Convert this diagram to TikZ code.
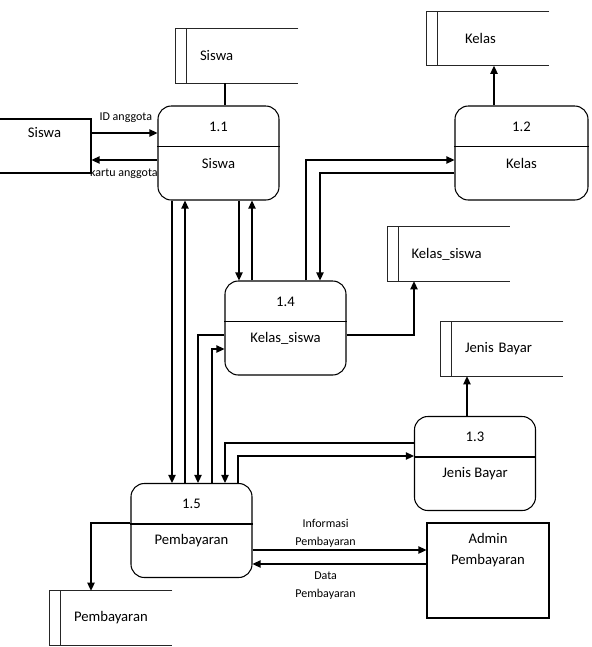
\documentclass[tikz,border=0pt]{standalone}
\usepackage{fontspec}
\setmainfont{Carlito}
\usetikzlibrary{arrows.meta}

\tikzset{
  proc/.style 2 args={draw, line width=0.8pt, rounded corners=10pt,
    minimum width=90.75pt, minimum height=70.5pt,
    label={[anchor=center,yshift=-15.75pt]north:#1},
    label={[anchor=center,yshift=-43.5pt]north:#2}},
  store/.style={minimum width=91.5pt, minimum height=40.5pt,
    inner xsep=18pt, text width=55.5pt, align=left},
  storeline/.style={line width=0.7pt, black!85},
  entity/.style={draw, line width=0.8pt, minimum width=91.5pt},
  flow/.style={-{Triangle[length=6pt,width=5.5pt]}, line width=0.9pt},
  link/.style={line width=0.9pt},
  lbl/.style={font=\fontsize{9}{13.5}\selectfont, align=center, inner sep=0pt}
}

\begin{document}
\begin{tikzpicture}[x=0.75pt, y=-0.75pt, font=\fontsize{11}{13.2}\selectfont]
  \useasboundingbox (0,0) rectangle (592,647);

  % processes
  \node[proc={1.1}{Siswa}] (p11) at (218.5,153) {};
  \node[proc={1.2}{Kelas}, minimum width=99.75pt] (p12) at (521.5,153) {};
  \node[proc={1.4}{Kelas\_siswa}] (p14) at (285.5,328) {};
  \node[proc={1.3}{Jenis Bayar}] (p13) at (475,463.5) {};
  \node[proc={1.5}{Pembayaran}] (p15) at (191.5,530.5) {};
  \foreach \p in {p11,p12,p13,p14,p15}
    \draw[line width=0.8pt] ([yshift=-30.75pt]\p.north west) -- ([yshift=-30.75pt]\p.north east);

  % data stores
  \node[store] (ssiswa) at (237,56) {Siswa};
  \node[store, inner xsep=28.5pt, text width=34.5pt] (skelas) at (488,38.5) {Kelas};
  \node[store] (skelassiswa) at (448.5,254) {Kelas\_siswa};
  \node[store] (sjenis) at (502,349) {Jenis Bayar};
  \node[store] (sbayar) at (111,618) {Pembayaran};
  \foreach \s in {ssiswa,skelas,skelassiswa,sjenis,sbayar} {
    \draw[storeline] (\s.north east) -- (\s.north west) -- (\s.south west) -- (\s.south east);
    \draw[storeline] ([xshift=8.25pt]\s.north west) -- ([xshift=8.25pt]\s.south west);
  }

  % external entities
  \node[entity, minimum width=69.75pt, minimum height=40.5pt,
    label={[anchor=center,yshift=-10.5pt]north:Siswa}] (esiswa) at (44.5,146) {};
  \node[entity, minimum height=71.25pt,
    label={[anchor=center,yshift=-20.6pt,align=center,font=\fontsize{11}{15.75}\selectfont]north:Admin\\Pembayaran}] (admin) at (488,570.5) {};

  % flows
  \draw[link] (ssiswa.south -| 225,0) -- (p11.north -| 225,0);
  \draw[flow] (esiswa.east |- 0,133) -- node[lbl,pos=0.52,yshift=11.25pt] {ID anggota} (p11.west |- 0,133);
  \draw[flow] (p11.west |- 0,160) -- node[lbl,pos=0.51,yshift=-9.75pt] {kartu anggota} (esiswa.east |- 0,160);
  \draw[flow] (p12.north -| 494,0) -- (skelas.south -| 494,0);
  \draw[flow] (p11.south -| 172,0) -- (p15.north -| 172,0);
  \draw[flow] (p15.north -| 185,0) -- (p11.south -| 185,0);
  \draw[flow] (p11.south -| 239,0) -- (p14.north -| 239,0);
  \draw[flow] (p14.north -| 252,0) -- (p11.south -| 252,0);
  \draw[flow] (p14.north -| 306,0) |- (p12.west |- 0,160);
  \draw[flow] (p12.west |- 0,173) -| (p14.north -| 320,0);
  \draw[flow] (p14.east |- 0,335) -| (skelassiswa.south -| 414,0);
  \draw[flow] (p14.west |- 0,335) -| (p15.north -| 198,0);
  \draw[flow] (p15.north -| 212,0) |- (p14.west |- 0,349);
  \draw[flow] (p13.north -| 467,0) -- (sjenis.south -| 467,0);
  \draw[flow] (p13.west |- 0,443) -| (p15.north -| 225,0);
  \draw[flow] (p15.north -| 238,0) |- (p13.west |- 0,456);
  \draw[flow] (p15.west |- 0,523) -| (sbayar.north -| 91,0);
  \draw[flow] (p15.east |- 0,550) -- node[lbl,pos=0.42,yshift=12.75pt] {Informasi\\Pembayaran} (admin.west |- 0,550);
  \draw[flow] (admin.west |- 0,564) -- node[lbl,pos=0.58,yshift=-16.1pt] {Data\\Pembayaran} (p15.east |- 0,564);
\end{tikzpicture}
\end{document}
